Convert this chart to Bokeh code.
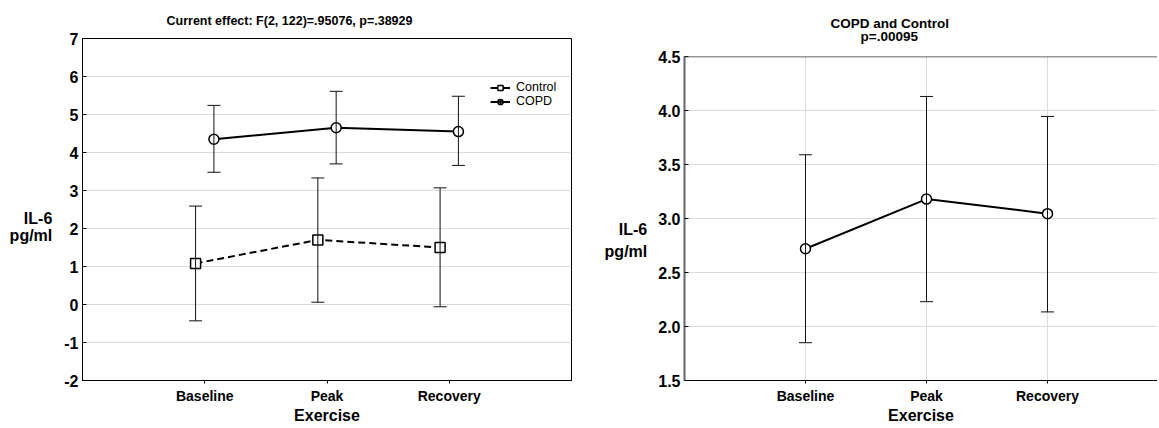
import numpy as np
from bokeh.plotting import figure
from bokeh.models import (ColumnDataSource, Range1d, FixedTicker, Whisker, Title,
                          TeeHead, Legend, LegendItem, Span, PrintfTickFormatter)
from bokeh.layouts import row, column
from bokeh.embed import file_html
from bokeh.resources import INLINE

# ---------------- data ----------------
categories = ["Baseline", "Peak", "Recovery"]

# left panel: group means with confidence limits
control_mean = [1.08, 1.70, 1.50]
control_upper = [2.59, 3.33, 3.07]
control_lower = [-0.43, 0.06, -0.06]
copd_mean = [4.35, 4.65, 4.55]
copd_upper = [5.24, 5.61, 5.48]
copd_lower = [3.48, 3.70, 3.66]
left_yticks = [-2, -1, 0, 1, 2, 3, 4, 5, 6, 7]
left_title = "Current effect: F(2, 122)=.95076, p=.38929"
group_names = ["Control", "COPD"]

# right panel: pooled means with confidence limits
pooled_mean = [2.72, 3.18, 3.045]
pooled_upper = [3.59, 4.13, 3.945]
pooled_lower = [1.85, 2.23, 2.135]
right_yticks = [1.5, 2.0, 2.5, 3.0, 3.5, 4.0, 4.5]
right_title_lines = ["COPD and Control", "p=.00095"]

x_label = "Exercise"
y_label_lines = ["IL-6", "pg/ml"]

FONT = "Liberation Sans"
NBSP = "\u00a0"
base = np.arange(1, len(categories) + 1, dtype=float)
offset = 0.075
x_overrides = {int(b): c for b, c in zip(base, categories)}
# two padding lines above push the label block below the frame centre, as in the original
y_label = "\n".join([NBSP, NBSP] + y_label_lines)

H = 426


def style_axes(p, yticks, tick_fmt=None):
    p.xaxis.ticker = FixedTicker(ticks=list(base))
    p.xaxis.major_label_overrides = x_overrides
    p.yaxis.ticker = FixedTicker(ticks=yticks)
    if tick_fmt:
        p.yaxis.formatter = PrintfTickFormatter(format=tick_fmt)
    else:
        p.yaxis.major_label_overrides = {t: str(t) for t in yticks}
    for ax in (p.xaxis, p.yaxis):
        ax.major_label_text_font = FONT
        ax.major_label_text_font_style = "bold"
        ax.major_label_text_color = "black"
        ax.axis_label_text_font = FONT
        ax.axis_label_text_font_style = "bold"
        ax.axis_label_text_color = "black"
        ax.minor_tick_line_color = None
        ax.major_tick_line_color = "black"
    p.xaxis.major_label_text_font_size = "14px"
    p.yaxis.major_label_text_font_size = "16px"
    p.xaxis.axis_label = x_label
    p.xaxis.axis_label_text_font_size = "16px"
    p.xaxis.major_tick_out = 3
    p.xaxis.major_tick_in = 0
    p.yaxis.major_tick_out = 0
    p.yaxis.major_tick_in = 4
    p.xaxis.major_label_standoff = 4
    p.xaxis.axis_label_standoff = 0
    p.yaxis.major_label_standoff = 4
    p.yaxis.axis_label = y_label
    p.yaxis.axis_label_text_font_size = "16px"
    p.yaxis.axis_label_orientation = "horizontal"
    p.yaxis.axis_label_text_align = "center"
    p.ygrid.grid_line_color = "#dcdcdc"


def errbars(p, xs, upper, lower):
    src = ColumnDataSource(dict(x=xs, upper=upper, lower=lower))
    w = Whisker(source=src, base="x", upper="upper", lower="lower",
                line_color="#111111", line_width=1, level="overlay",
                upper_head=TeeHead(size=13, line_color="#111111", line_width=1),
                lower_head=TeeHead(size=13, line_color="#111111", line_width=1))
    p.add_layout(w)


# ---------------- left panel ----------------
p1 = figure(width=588, height=H, x_range=Range1d(0, 4), y_range=Range1d(-2, 7),
            output_backend="svg", toolbar_location=None, title=None,
            min_border_left=82, min_border_right=17, min_border_top=35, min_border_bottom=45)
style_axes(p1, left_yticks)
p1.yaxis.axis_label_text_line_height = 1.0
p1.yaxis.axis_label_standoff = 9
p1.add_layout(Title(text=left_title, align="left", offset=84, text_font=FONT,
                    text_font_style="bold", text_font_size="12.5px", text_color="black",
                    standoff=22), "above")
p1.xgrid.grid_line_color = None
p1.outline_line_color = "black"
p1.outline_line_width = 1
p1.xaxis.axis_line_color = "black"
p1.yaxis.axis_line_color = "black"

x_ctrl = base - offset
x_copd = base + offset
p1.line(x_ctrl, control_mean, line_color="black", line_width=2, line_dash="7 4")
p1.line(x_copd, copd_mean, line_color="black", line_width=2)
p1.scatter(x_ctrl, control_mean, marker="square", size=10, fill_color="white",
           line_color="black", line_width=1.5)
p1.scatter(x_copd, copd_mean, marker="circle", size=10, fill_color="white",
           line_color="black", line_width=1.5)
errbars(p1, x_ctrl, control_upper, control_lower)
errbars(p1, x_copd, copd_upper, copd_lower)

# legend icons (renderers without visible data points)
nan = [np.nan]
lg_l1 = p1.line(nan, nan, line_color="black", line_width=2)
lg_m1 = p1.scatter(nan, nan, marker="square", size=9, fill_color="white", line_color="black", line_width=1.5)
lg_l2 = p1.line(nan, nan, line_color="black", line_width=2)
lg_m2 = p1.scatter(nan, nan, marker="circle_cross", size=10, fill_color="white", line_color="black", line_width=1.5)
legend = Legend(items=[LegendItem(label=group_names[0], renderers=[lg_l1, lg_m1]),
                       LegendItem(label=group_names[1], renderers=[lg_l2, lg_m2])],
                location=(408, 272), background_fill_alpha=0, border_line_color=None,
                label_text_font=FONT, label_text_font_size="12.5px", label_text_color="black",
                glyph_width=20, glyph_height=13, label_height=13, spacing=0, padding=0,
                margin=0, label_standoff=6)
p1.add_layout(legend)

# ---------------- right panel ----------------
p2 = figure(width=569, height=H, x_range=Range1d(0, 3.909), y_range=Range1d(1.5, 4.5),
            output_backend="svg", toolbar_location=None, title=None,
            min_border_left=96, min_border_right=0, min_border_top=55, min_border_bottom=44)
style_axes(p2, right_yticks, "%.1f")
p2.yaxis.axis_label_text_line_height = 1.3
p2.yaxis.axis_label_standoff = 8
# second title line padded so that both lines are centred on each other
pad = NBSP * 8
p2.add_layout(Title(text=right_title_lines[0] + "\n" + pad + right_title_lines[1],
                    align="left", offset=146, text_font=FONT, text_font_style="bold",
                    text_font_size="13.5px", text_color="black", text_line_height=0.85,
                    standoff=26), "above")
p2.xgrid.grid_line_color = "#dcdcdc"
p2.outline_line_color = None
p2.yaxis.axis_line_color = "#666666"
p2.yaxis.axis_line_width = 2
p2.xaxis.axis_line_color = "black"
p2.add_layout(Span(location=4.5, dimension="width", line_color="#333333", line_width=1.5))

p2.line(base, pooled_mean, line_color="black", line_width=2)
p2.scatter(base, pooled_mean, marker="circle", size=10, fill_color="white",
           line_color="black", line_width=1.5)
errbars(p2, base, pooled_upper, pooled_lower)

layout = row(column(p1), column(p2))
open("out.html", "w").write(file_html(layout, INLINE))
